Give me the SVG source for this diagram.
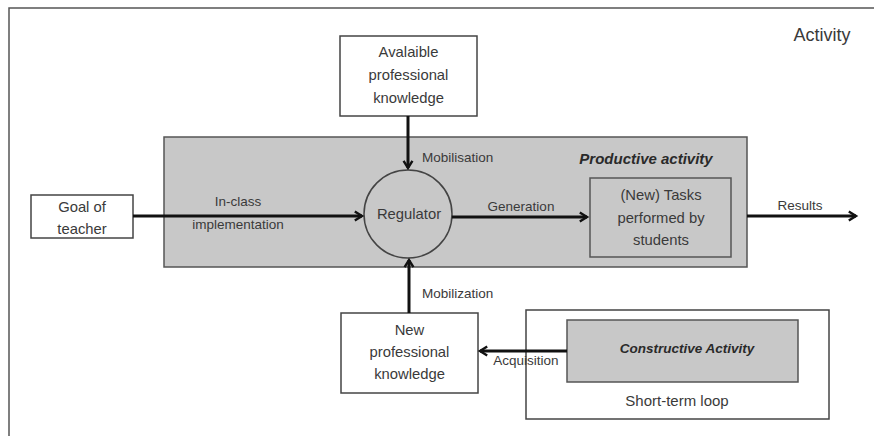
<svg xmlns="http://www.w3.org/2000/svg" width="874" height="436" viewBox="0 0 874 436">
<defs>
<style>
text{font-family:"Liberation Sans",Arial,sans-serif;fill:#3a3a3a;text-anchor:middle}
.n{font-size:14.8px}
.l{font-size:13.5px}
.l0{font-size:13.5px;text-anchor:start}
.bi{font-weight:bold;font-style:italic;fill:#2a2a2a}
.box{fill:#fff;stroke:#444;stroke-width:1.5}
.gbox{fill:#c8c8c8;stroke:#555;stroke-width:1.5}
.ar{stroke:#111;stroke-width:3;fill:none;marker-end:url(#ah)}
</style>
<marker id="ah" viewBox="0 0 10 10" refX="8" refY="5" markerWidth="4" markerHeight="4" markerUnits="strokeWidth" orient="auto" overflow="visible">
<path d="M2,1.3 L8,5 L2,8.7" fill="none" stroke="#111" stroke-width="2" stroke-linejoin="miter"/>
</marker>
</defs>
<rect width="874" height="436" fill="#fff"/>
<path d="M9,436 V8 H874" fill="none" stroke="#555" stroke-width="1.5"/>
<text x="822" y="41" style="font-size:18px">Activity</text>

<g id="productive">
<rect class="gbox" x="164" y="137" width="583" height="130"/>
<text class="bi" x="646" y="164" style="font-size:15px">Productive activity</text>
</g>

<g id="available">
<rect class="box" x="340" y="36" width="137" height="80"/>
<text class="n" x="408.5" y="57">Avalaible</text>
<text class="n" x="408.5" y="80">professional</text>
<text class="n" x="408.5" y="103">knowledge</text>
</g>

<g id="goal">
<rect class="box" x="31" y="195" width="102" height="43"/>
<text class="n" x="82" y="212">Goal of</text>
<text class="n" x="82" y="234">teacher</text>
</g>

<g id="regulator">
<circle cx="408" cy="214" r="44" fill="#c8c8c8" stroke="#444" stroke-width="1.5"/>
<text class="n" x="409" y="219">Regulator</text>
</g>

<g id="tasks">
<rect class="gbox" x="590" y="178" width="141" height="79"/>
<text class="n" x="661" y="200">(New) Tasks</text>
<text class="n" x="661" y="223">performed by</text>
<text class="n" x="661" y="245">students</text>
</g>

<g id="newknowledge">
<rect class="box" x="341" y="313" width="137" height="80"/>
<text class="n" x="409.5" y="335">New</text>
<text class="n" x="409.5" y="357">professional</text>
<text class="n" x="409.5" y="379">knowledge</text>
</g>

<g id="shortloop">
<rect class="box" x="526" y="310" width="303" height="109"/>
<text class="n" x="677" y="406" style="font-size:15px">Short-term loop</text>
</g>

<g id="constructive">
<rect class="gbox" x="567" y="320" width="231" height="62"/>
<text class="bi" x="687" y="353" style="font-size:13.5px">Constructive Activity</text>
</g>

<g id="connectors">
<line class="ar" x1="133" y1="216" x2="362" y2="216"/>
<line class="ar" x1="408" y1="116" x2="408" y2="168"/>
<line class="ar" x1="409" y1="313" x2="409" y2="260"/>
<line class="ar" x1="452" y1="217" x2="587" y2="217"/>
<line class="ar" x1="747" y1="216" x2="856" y2="216"/>
<line class="ar" x1="567" y1="351" x2="480" y2="351"/>
<text class="l" x="238" y="206">In-class</text>
<text class="l" x="238" y="229">implementation</text>
<text class="l0" x="422" y="162">Mobilisation</text>
<text class="l" x="521" y="211">Generation</text>
<text class="l" x="800" y="210">Results</text>
<text class="l0" x="422" y="298">Mobilization</text>
<text class="l" x="526" y="365">Acquisition</text>
</g>
</svg>
